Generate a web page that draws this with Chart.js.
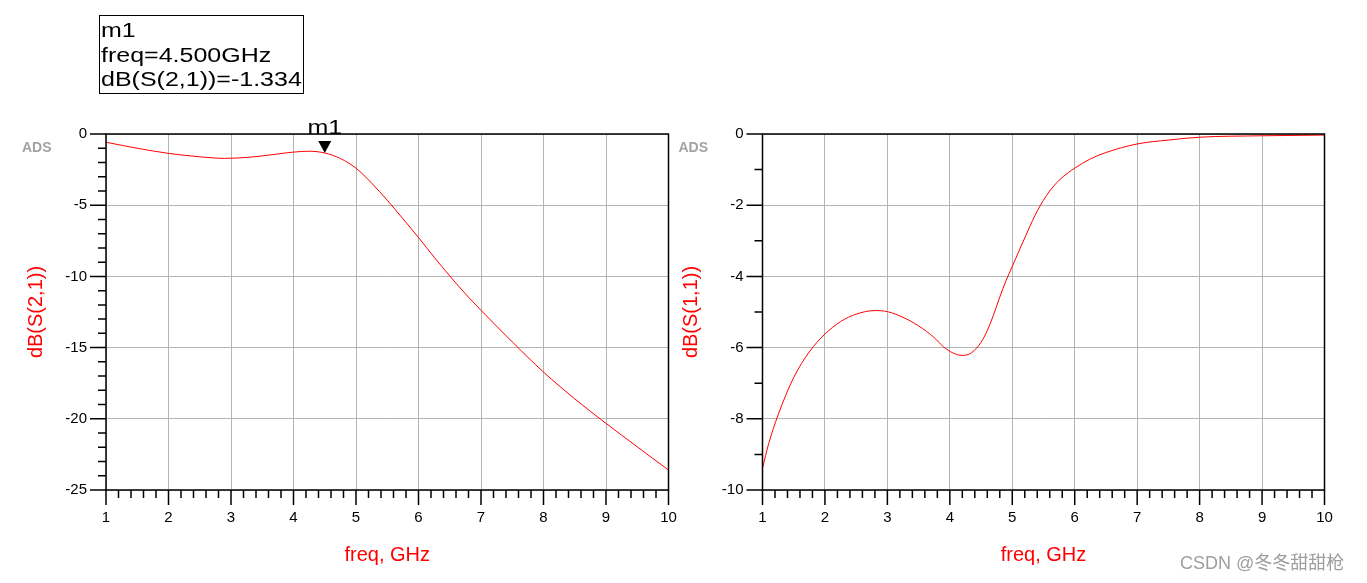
<!DOCTYPE html>
<html>
<head>
<meta charset="utf-8">
<script src="https://cdn.jsdelivr.net/npm/chart.js@4/dist/chart.umd.min.js"></script>
<style>
  html, body { margin: 0; padding: 0; background: #fff; }
  body { width: 1367px; height: 583px; position: relative; overflow: hidden; }
  canvas { position: absolute; top: 0; }
  #s21 { left: 0; }
  #s11 { left: 655px; }
</style>
</head>
<body>
<canvas id="s21" width="683" height="583"></canvas>
<canvas id="s11" width="712" height="583"></canvas>
<script>
// dB(S(2,1)) trace
const freqS21 = [1.0, 1.5, 2.0, 2.5, 2.9, 3.3, 3.7, 4.0, 4.25, 4.5, 4.75, 5.0, 5.25, 5.5, 5.75, 6.0, 6.25, 6.5, 6.75, 7.0, 7.5, 8.0, 8.5, 9.0, 9.5, 10.0];
const s21dB   = [-0.58, -1.0, -1.36, -1.6, -1.71, -1.63, -1.43, -1.27, -1.21, -1.334, -1.72, -2.4, -3.45, -4.65, -5.95, -7.27, -8.65, -9.97, -11.22, -12.38, -14.6, -16.72, -18.6, -20.32, -21.97, -23.6];

// dB(S(1,1)) trace
const freqS11 = [1.0, 1.1, 1.25, 1.5, 1.75, 2.0, 2.25, 2.5, 2.8, 3.0, 3.25, 3.5, 3.75, 3.9, 4.05, 4.2, 4.35, 4.5, 4.6, 4.7, 4.8, 4.9, 5.0, 5.25, 5.4, 5.5, 5.6, 5.75, 5.9, 6.0, 6.25, 6.5, 7.0, 7.5, 8.0, 9.0, 10.0];
const s11dB   = [-9.39, -8.69, -7.89, -6.84, -6.12, -5.62, -5.27, -5.06, -4.96, -4.99, -5.15, -5.39, -5.72, -5.98, -6.15, -6.22, -6.14, -5.85, -5.52, -5.08, -4.58, -4.12, -3.72, -2.72, -2.16, -1.86, -1.6, -1.3, -1.08, -0.96, -0.7, -0.52, -0.28, -0.17, -0.09, -0.05, -0.03];

// tick labels
const freqTicks = [1, 2, 3, 4, 5, 6, 7, 8, 9, 10];
const s21Ticks = [0, -5, -10, -15, -20, -25];
const s11Ticks = [0, -2, -4, -6, -8, -10];

// marker m1 on the S21 trace
const m1 = { name: "m1", freq: 4.5, value: -1.334 };

Chart.defaults.font.family = "'Liberation Sans', Arial, sans-serif";
Chart.defaults.color = "#000";

// ADS style frame: box round the plot, outward major/minor ticks, "ADS" tag
const adsAxes = {
    id: "adsAxes",
    afterDraw(chart, args, opts) {
        const { ctx, chartArea: a, scales: { x, y } } = chart;
        ctx.save();
        ctx.strokeStyle = "#000";
        ctx.lineWidth = 1.5;
        ctx.strokeRect(a.left, a.top, a.right - a.left, a.bottom - a.top);

        ctx.beginPath();
        let n = Math.round((x.max - x.min) / opts.xMinor);
        let every = Math.round(opts.xMajor / opts.xMinor);
        for (let i = 0; i <= n; i++) {
            const px = x.getPixelForValue(x.min + i * opts.xMinor);
            ctx.moveTo(px, a.bottom);
            ctx.lineTo(px, a.bottom + (i % every === 0 ? 15 : 8));
        }
        n = Math.round((y.max - y.min) / opts.yMinor);
        every = Math.round(opts.yMajor / opts.yMinor);
        for (let i = 0; i <= n; i++) {
            const py = y.getPixelForValue(y.min + i * opts.yMinor);
            ctx.moveTo(a.left, py);
            ctx.lineTo(a.left - (i % every === 0 ? 16 : 8), py);
        }
        ctx.stroke();

        ctx.font = "bold 14px 'Liberation Sans', Arial";
        ctx.fillStyle = "#a3a3a3";
        ctx.textBaseline = "alphabetic";
        ctx.fillText("ADS", a.left - 84, 152);
        ctx.restore();
    }
};

// marker triangle, its label and the readout box
const markerPlugin = {
    id: "markerPlugin",
    afterDraw(chart) {
        const { ctx, chartArea: a, scales: { x, y } } = chart;
        const px = x.getPixelForValue(m1.freq);
        const py = y.getPixelForValue(m1.value);
        ctx.save();
        ctx.fillStyle = "#000";
        ctx.beginPath();
        ctx.moveTo(px, py);
        ctx.lineTo(px - 6.5, py - 12);
        ctx.lineTo(px + 6.5, py - 12);
        ctx.closePath();
        ctx.fill();

        ctx.font = "20px 'Liberation Sans', Arial";
        ctx.textAlign = "center";
        ctx.save();
        ctx.translate(px, a.top);
        ctx.scale(1.25, 1);
        ctx.fillText(m1.name, 0, 0);
        ctx.restore();

        // readout
        ctx.strokeStyle = "#000";
        ctx.lineWidth = 1;
        ctx.strokeRect(99.5, 15.5, 204, 78);
        const lines = [m1.name, "freq=" + m1.freq.toFixed(3) + "GHz", "dB(S(2,1))=" + m1.value.toFixed(3)];
        ctx.textAlign = "left";
        lines.forEach((t, i) => {
            ctx.save();
            ctx.translate(101, 37 + i * 24.5);
            ctx.scale(1.25, 1);
            ctx.fillText(t, 0, 0);
            ctx.restore();
        });
        ctx.restore();
    }
};

const watermark = {
    id: "watermark",
    afterDraw(chart) {
        const ctx = chart.ctx;
        ctx.save();
        ctx.font = "18px 'Liberation Sans', 'Noto Sans CJK SC', sans-serif";
        ctx.fillStyle = "#9e9e9e";
        ctx.fillText("CSDN @冬冬甜甜枪", 525, 569);
        ctx.restore();
    }
};

function makeChart(id, freqs, values, yTicks, yTitle, yMajor, axisWidth, padRight, extra) {
    return new Chart(document.getElementById(id), {
        type: "line",
        data: {
            datasets: [{
                data: freqs.map((f, i) => ({ x: f, y: values[i] })),
                borderColor: "#ff0000",
                borderWidth: 1,
                pointRadius: 0,
                cubicInterpolationMode: "monotone"
            }]
        },
        options: {
            responsive: false,
            animation: false,
            layout: { padding: { top: 134, right: padRight, left: 0, bottom: 0 } },
            plugins: {
                legend: { display: false },
                tooltip: { enabled: false },
                adsAxes: { xMinor: 0.2, xMajor: 1, yMinor: 1, yMajor: yMajor }
            },
            scales: {
                x: {
                    type: "linear",
                    min: freqTicks[0],
                    max: freqTicks[freqTicks.length - 1],
                    afterBuildTicks: s => { s.ticks = freqTicks.map(v => ({ value: v })); },
                    afterFit: s => { s.height = 93; s.paddingLeft = 0; s.paddingRight = 0; },
                    ticks: { font: { size: 15 }, padding: 19, maxRotation: 0, autoSkip: false },
                    grid: { color: "#b4b4b4", drawTicks: false },
                    border: { display: false },
                    title: {
                        display: true, text: "freq, GHz", color: "#ff0000",
                        font: { size: 20 }, padding: { top: 0, bottom: 16 }
                    }
                },
                y: {
                    type: "linear",
                    min: Math.min(...yTicks),
                    max: Math.max(...yTicks),
                    afterBuildTicks: s => { s.ticks = yTicks.slice().reverse().map(v => ({ value: v })); },
                    afterFit: s => { s.width = axisWidth; s.paddingTop = 0; s.paddingBottom = 0; },
                    ticks: { font: { size: 15 }, padding: 19, autoSkip: false },
                    grid: { color: "#b4b4b4", drawTicks: false },
                    border: { display: false },
                    title: {
                        display: true, text: yTitle, color: "#ff0000",
                        font: { size: 20 }, padding: { top: 24.5, bottom: 0 }
                    }
                }
            }
        },
        plugins: [adsAxes].concat(extra)
    });
}

makeChart("s21", freqS21, s21dB, s21Ticks, "dB(S(2,1))", 5, 106, 14.5, [markerPlugin]);
makeChart("s11", freqS11, s11dB, s11Ticks, "dB(S(1,1))", 2, 107.5, 42.5, [watermark]);
</script>
</body>
</html>
